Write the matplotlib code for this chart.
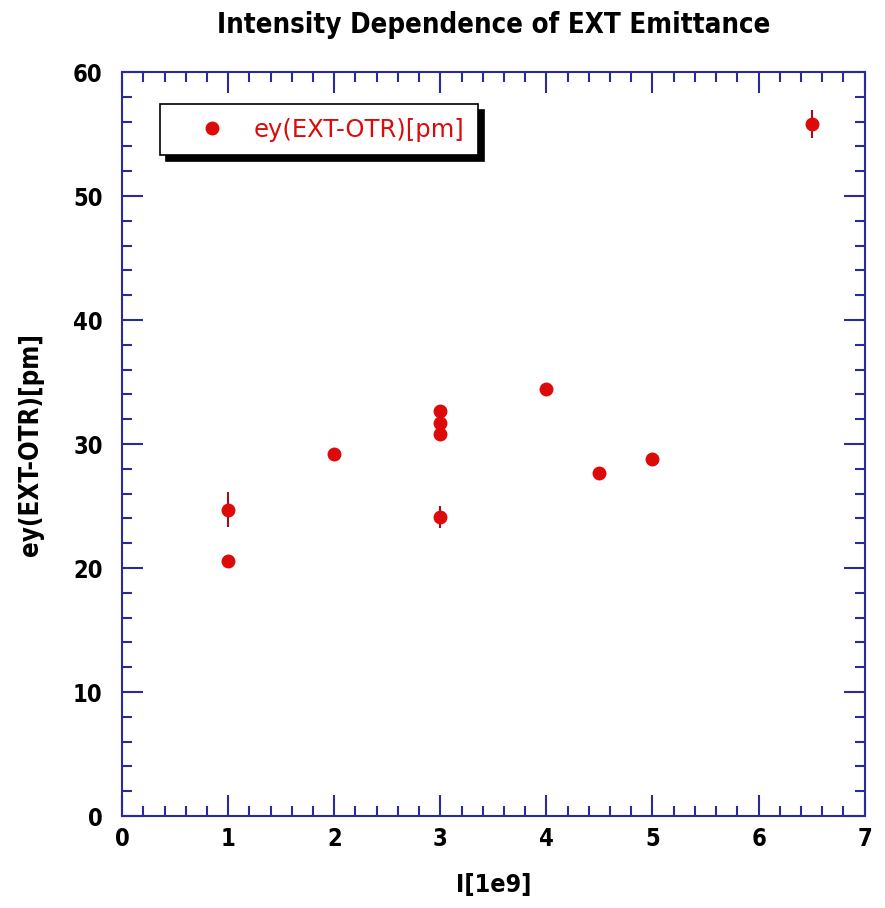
import matplotlib
matplotlib.use("Agg")
import matplotlib.pyplot as plt
from matplotlib.ticker import MultipleLocator
from matplotlib.lines import Line2D

x_vals = [1, 1, 2, 3, 3, 3, 3, 4, 4.5, 5, 6.5]
y_vals = [24.7, 20.6, 29.2, 32.7, 31.7, 30.8, 24.1, 34.4, 27.7, 28.8, 55.8]
y_err = [1.4, 0.4, 0.4, 0.4, 0.4, 0.4, 0.9, 0.4, 0.4, 0.4, 1.1]

series_label = "ey(EXT-OTR)[pm]"
title = "Intensity Dependence of EXT Emittance"
xlabel = "I[1e9]"
ylabel = "ey(EXT-OTR)[pm]"

axis_col = "#2a2a9a"
red = "#dd0a0a"
FAM = "DejaVu Sans"
ST = "condensed"

fig = plt.figure(figsize=(8.85, 9.08), dpi=100)
ax = fig.add_axes([0.138, 0.1013, 0.839, 0.8194])

ax.errorbar(x_vals, y_vals, yerr=y_err, fmt="o", color=red, ecolor="#9a1020",
            elinewidth=1.5, capsize=0, markersize=9)

ax.set_xlim(0, 7)
ax.set_ylim(0, 60)
ax.xaxis.set_major_locator(MultipleLocator(1))
ax.xaxis.set_minor_locator(MultipleLocator(0.2))
ax.yaxis.set_major_locator(MultipleLocator(10))
ax.yaxis.set_minor_locator(MultipleLocator(2))
ax.tick_params(which="both", direction="in", top=True, right=True, color=axis_col, width=1.5)
ax.tick_params(which="major", length=15, labelsize=17)
ax.tick_params(axis="x", which="major", pad=8)
ax.tick_params(axis="y", which="major", pad=14)
ax.tick_params(which="minor", length=7.5)
for lab in ax.get_xticklabels() + ax.get_yticklabels():
    lab.set_fontweight("bold")
    lab.set_family(FAM)
    lab.set_fontstretch(ST)
for s in ax.spines.values():
    s.set_color(axis_col)
    s.set_linewidth(1.5)

ax.set_title(title, fontsize=19.8, fontweight="bold", fontstretch=ST, family=FAM, pad=28)
ax.set_xlabel(xlabel, fontsize=18, fontweight="bold", fontstretch=ST, family=FAM, labelpad=16)
ax.set_ylabel(ylabel, fontsize=18.5, fontweight="bold", fontstretch=ST, family=FAM, labelpad=21)

handle = Line2D([], [], marker="o", linestyle="none", color=red, markersize=9)
leg = ax.legend([handle], [series_label], loc="upper left", bbox_to_anchor=(0.051, 0.957),
                borderaxespad=0, fancybox=False, framealpha=1, edgecolor="black",
                prop={"family": FAM, "size": 17.5},
                handletextpad=0.15, borderpad=0.56, handlelength=3.15,
                shadow={"ox": 4, "oy": -4, "facecolor": "black", "edgecolor": "black", "alpha": 1})
leg.get_frame().set_linewidth(1.2)
for t in leg.get_texts():
    t.set_color(red)

fig.savefig("out.png", dpi=100)
